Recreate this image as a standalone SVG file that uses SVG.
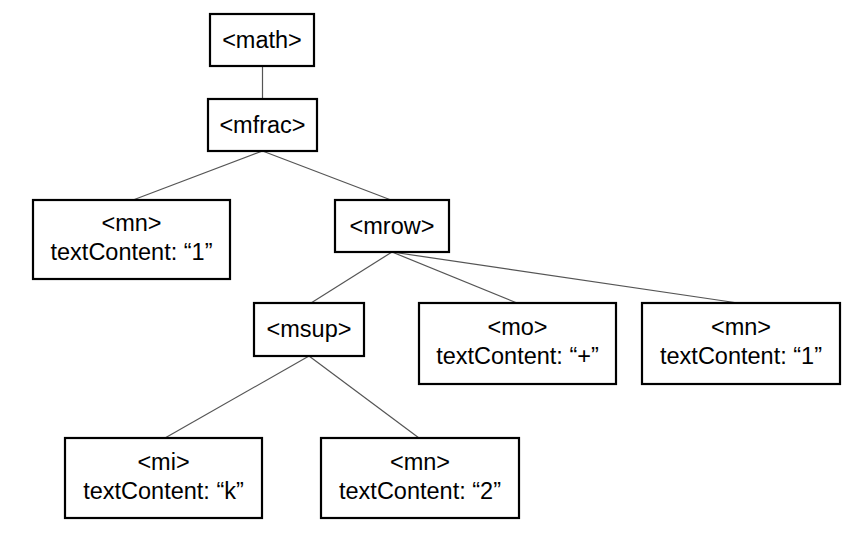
<svg xmlns="http://www.w3.org/2000/svg" width="859" height="542" viewBox="0 0 859 542">
<style>
.box{fill:#fff;stroke:#000;stroke-width:2.2}
.t{font-family:"Liberation Sans",Arial,sans-serif;font-size:23.5px;fill:#000;text-anchor:middle}
.edge{stroke:#555;stroke-width:1.2;fill:none}
</style>
<rect width="859" height="542" fill="#fff"/>
<g id="connectors">
<line class="edge" x1="262.5" y1="66" x2="262.5" y2="99"/>
<line class="edge" x1="262.5" y1="151" x2="133" y2="200"/>
<line class="edge" x1="262.5" y1="151" x2="391" y2="200"/>
<line class="edge" x1="392" y1="252" x2="311" y2="303"/>
<line class="edge" x1="392" y1="252" x2="517" y2="303"/>
<line class="edge" x1="392" y1="252" x2="738" y2="303"/>
<line class="edge" x1="309" y1="356" x2="165" y2="438"/>
<line class="edge" x1="309" y1="356" x2="419" y2="438"/>
</g>
<g id="math"><rect class="box" x="210" y="14" width="104" height="52"/><text class="t" x="262" y="48">&lt;math&gt;</text></g>
<g id="mfrac"><rect class="box" x="208" y="99" width="109" height="52"/><text class="t" x="262.5" y="133">&lt;mfrac&gt;</text></g>
<g id="mn1"><rect class="box" x="33" y="200" width="197" height="79"/><text class="t" x="131.5" y="231">&lt;mn&gt;</text><text class="t" x="131.5" y="260">textContent: “1”</text></g>
<g id="mrow"><rect class="box" x="335" y="200" width="114" height="52"/><text class="t" x="392" y="233.5">&lt;mrow&gt;</text></g>
<g id="msup"><rect class="box" x="254" y="303" width="110" height="53"/><text class="t" x="309" y="337">&lt;msup&gt;</text></g>
<g id="mo"><rect class="box" x="419" y="303" width="197" height="81"/><text class="t" x="517.5" y="335">&lt;mo&gt;</text><text class="t" x="517.5" y="364">textContent: “+”</text></g>
<g id="mn2"><rect class="box" x="642" y="303" width="198" height="81"/><text class="t" x="741" y="335">&lt;mn&gt;</text><text class="t" x="741" y="364">textContent: “1”</text></g>
<g id="mi"><rect class="box" x="65" y="438" width="197" height="80"/><text class="t" x="163.5" y="469.5">&lt;mi&gt;</text><text class="t" x="163.5" y="498.5">textContent: “k”</text></g>
<g id="mn3"><rect class="box" x="321" y="438" width="198" height="80"/><text class="t" x="420" y="469.5">&lt;mn&gt;</text><text class="t" x="420" y="498.5">textContent: “2”</text></g>
</svg>
